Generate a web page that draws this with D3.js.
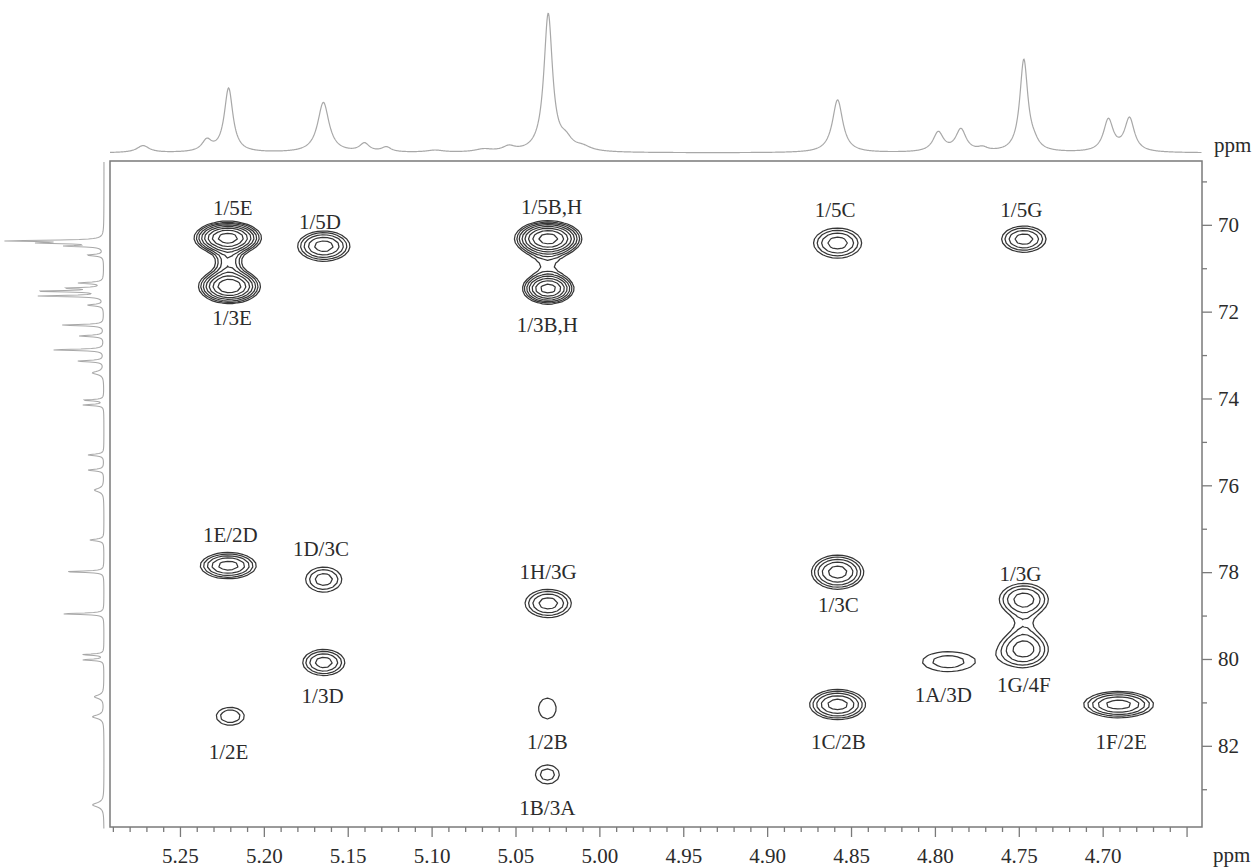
<!DOCTYPE html>
<html>
<head>
<meta charset="utf-8">
<script src="https://cdn.jsdelivr.net/npm/d3@7"></script>
<style>
  body { margin: 0; background: #fff; }
  svg { display: block; }
</style>
</head>
<body>
<div id="chart"></div>
<script>
// ---- axis ticks ----
var xMajor = [5.25, 5.20, 5.15, 5.10, 5.05, 5.00, 4.95, 4.90, 4.85, 4.80, 4.75, 4.70, 4.65];
var xLabels = ["5.25", "5.20", "5.15", "5.10", "5.05", "5.00", "4.95", "4.90", "4.85", "4.80", "4.75", "4.70", ""];
var xMinor = [5.29, 5.28, 5.27, 5.26, 5.24, 5.23, 5.22, 5.21, 5.19, 5.18, 5.17, 5.16, 5.14, 5.13, 5.12, 5.11,
              5.09, 5.08, 5.07, 5.06, 5.04, 5.03, 5.02, 5.01, 4.99, 4.98, 4.97, 4.96, 4.94, 4.93, 4.92, 4.91,
              4.89, 4.88, 4.87, 4.86, 4.84, 4.83, 4.82, 4.81, 4.79, 4.78, 4.77, 4.76, 4.74, 4.73, 4.72, 4.71,
              4.69, 4.68, 4.67, 4.66];
var yMajor = [70, 72, 74, 76, 78, 80, 82];
var yLabels = ["70", "72", "74", "76", "78", "80", "82"];
var yMinor = [69, 71, 73, 75, 77, 79, 81, 83];

// ---- 1H projection (top): peak position (ppm), height (% of tallest), line width (ppm) ----
var topPpm   = [5.272, 5.234, 5.221, 5.1645, 5.140, 5.127, 5.098, 5.069, 5.054, 5.0305, 5.020, 5.010,
                4.858, 4.798, 4.7845, 4.7716, 4.747, 4.741, 4.6966, 4.6840];
var topInt   = [5, 8, 46, 36, 6, 3.5, 1.5, 2, 3.5, 99, 7, 3,
                38, 14, 16, 2.5, 66, 4, 23, 24];
var topWidth = [0.009, 0.007, 0.0062, 0.0082, 0.007, 0.007, 0.012, 0.012, 0.009, 0.0062, 0.009, 0.012,
                0.0075, 0.0075, 0.0075, 0.007, 0.0058, 0.007, 0.007, 0.007];

// ---- 13C projection (left) ----
var leftPpm   = [70.37, 70.42, 70.49, 70.70, 71.34, 71.46, 71.53, 71.64, 71.85, 72.31, 72.56, 72.88,
                 73.14, 73.41, 74.04, 74.15, 75.30, 75.65, 76.11, 77.26, 77.99, 78.96, 79.90, 80.02,
                 80.87, 81.33, 83.36];
var leftInt   = [100, 60, 38, 17, 26, 38, 70, 68, 17, 45, 26, 55,
                 28, 12, 22, 22, 17, 17, 10, 15, 41, 45, 23, 23,
                 10, 12, 12];
var leftWidth = [0.035, 0.035, 0.035, 0.045, 0.04, 0.035, 0.035, 0.035, 0.045, 0.035, 0.04, 0.035,
                 0.04, 0.09, 0.035, 0.035, 0.045, 0.045, 0.1, 0.05, 0.035, 0.035, 0.035, 0.035,
                 0.1, 0.1, 0.12];

// ---- HMBC cross peaks: 1H ppm, 13C ppm, intensity, widths (ppm) ----
var crossH    = [5.2215, 5.2205, 5.2210, 5.1643, 5.0305, 5.0305, 5.0310, 4.8580, 4.7470,
                 5.2212, 5.1643, 5.1643, 5.0305, 5.0310, 5.0310, 5.2200, 4.8580, 4.8580,
                 4.7920, 4.7470, 4.7470, 4.7470, 4.6905];
var crossC    = [70.30, 71.42, 70.85, 70.49, 70.32, 71.47, 70.90, 70.42, 70.33,
                 77.85, 78.17, 80.08, 78.72, 81.14, 82.66, 81.32, 78.00, 81.05,
                 80.06, 78.63, 79.78, 79.20, 81.05];
var crossAmp  = [7.35, 6.2, 1.9, 3.34, 7.35, 5.65, 0.95, 2.57, 2.57,
                 3.34, 1.98, 2.57, 2.57, 1.25, 1.52, 1.7, 3.34, 3.34,
                 1.52, 2.57, 2.57, 0.6, 3.34];
var crossSigH = [0.0100, 0.0096, 0.0060, 0.0100, 0.0100, 0.0082, 0.0090, 0.0104, 0.0096,
                 0.0107, 0.0092, 0.0091, 0.0100, 0.0080, 0.0078, 0.0081, 0.0100, 0.0107,
                 0.0169, 0.0106, 0.0106, 0.0065, 0.0134];
var crossSigC = [0.190, 0.205, 0.230, 0.223, 0.205, 0.190, 0.20, 0.251, 0.218,
                 0.193, 0.247, 0.218, 0.235, 0.362, 0.239, 0.201, 0.252, 0.223,
                 0.251, 0.268, 0.30, 0.22, 0.193];
var contourLevels = [1, 1.3, 1.69, 2.197, 2.856, 3.713, 4.827, 6.275, 8.157, 10.6];

// ---- peak labels ----
var labelText = ["1/5E", "1/3E", "1/5D", "1/5B,H", "1/3B,H", "1/5C", "1/5G",
                 "1E/2D", "1D/3C", "1/3D", "1H/3G", "1/2B", "1B/3A", "1/2E",
                 "1/3C", "1C/2B", "1A/3D", "1/3G", "1G/4F", "1F/2E"];
var labelH = [5.2185, 5.2190, 5.1665, 5.0285, 5.0310, 4.8595, 4.7485,
              5.2200, 5.1660, 5.1650, 5.0305, 5.0310, 5.0310, 5.2210,
              4.8575, 4.8575, 4.7950, 4.7490, 4.7470, 4.6890];
var labelC = [69.60, 72.13, 69.92, 69.57, 72.29, 69.64, 69.64,
              77.13, 77.45, 80.84, 77.99, 81.90, 83.42, 82.13,
              78.75, 81.90, 80.82, 78.04, 80.59, 81.90];

var W = 1258, H = 868;
var box = { left: 110, right: 1202, top: 161, bottom: 827 };
var serif = "'Liberation Serif', 'Times New Roman', Times, serif";

var svg = d3.select("#chart").append("svg")
    .attr("width", W)
    .attr("height", H)
    .attr("font-family", serif);

var x = d3.scaleLinear().domain([5.2917, 4.6408]).range([box.left, box.right]);
var y = d3.scaleLinear().domain([68.53, 83.87]).range([box.top, box.bottom]);
var topY = d3.scaleLinear().domain([0, 100]).range([153, 14]);
var leftX = d3.scaleLinear().domain([0, 100]).range([104, 10]);

function lorentz(v, c, w) {
  var d = (v - c) / (w / 2);
  return 1 / (1 + d * d);
}

// top projection
var topPts = d3.range(box.left, box.right, 0.5).map(function(px) {
  var p = x.invert(px), s = 0;
  for (var k = 0; k < topPpm.length; k++) s += topInt[k] * lorentz(p, topPpm[k], topWidth[k]);
  return [px, topY(s)];
});
svg.append("path")
    .attr("d", d3.line()(topPts))
    .attr("fill", "none")
    .attr("stroke", "#a8a8a8")
    .attr("stroke-width", 1.2);

// left projection
var leftPts = d3.range(box.top + 1, box.bottom + 2, 0.5).map(function(py) {
  var p = y.invert(py), s = 0;
  for (var k = 0; k < leftPpm.length; k++) s += leftInt[k] * lorentz(p, leftPpm[k], leftWidth[k]);
  return [leftX(s), py];
});
svg.append("path")
    .attr("d", d3.line()(leftPts))
    .attr("fill", "none")
    .attr("stroke", "#a8a8a8")
    .attr("stroke-width", 1.1);

// contour map
var cellX = 5, cellY = 4;
var nx = Math.ceil((box.right - box.left) / cellX);
var ny = Math.ceil((box.bottom - box.top) / cellY);
var grid = new Float64Array(nx * ny);
for (var j = 0; j < ny; j++) {
  var c = y.invert(box.top + (j + 0.5) * cellY);
  for (var i = 0; i < nx; i++) {
    var h = x.invert(box.left + (i + 0.5) * cellX), s = 0;
    for (var k = 0; k < crossH.length; k++) {
      var dh = (h - crossH[k]) / crossSigH[k];
      var dc = (c - crossC[k]) / crossSigC[k];
      s += crossAmp[k] * Math.exp(-0.5 * (dh * dh + dc * dc));
    }
    grid[j * nx + i] = s;
  }
}
var contours = d3.contours().size([nx, ny]).thresholds(contourLevels)(grid);
var gridPath = d3.geoPath(d3.geoTransform({
  point: function(gx, gy) { this.stream.point(box.left + gx * cellX, box.top + gy * cellY); }
}));
svg.append("g").selectAll("path")
    .data(contours)
    .enter().append("path")
    .attr("d", gridPath)
    .attr("fill", "none")
    .attr("stroke", "#363636")
    .attr("stroke-width", 1.25)
    .attr("stroke-linejoin", "round");

// frame
svg.append("rect")
    .attr("x", box.left).attr("y", box.top)
    .attr("width", box.right - box.left).attr("height", box.bottom - box.top)
    .attr("fill", "none")
    .attr("stroke", "#7a7a7a")
    .attr("stroke-width", 1.5);

// bottom axis
var xAxisMinor = svg.append("g")
    .attr("transform", "translate(0," + box.bottom + ")")
    .call(d3.axisBottom(x).tickValues(xMinor).tickSize(5).tickFormat(""));
var xAxis = svg.append("g")
    .attr("transform", "translate(0," + box.bottom + ")")
    .call(d3.axisBottom(x).tickValues(xMajor).tickSize(10).tickPadding(11)
      .tickFormat(function(d, i) { return xLabels[i]; }));

// right axis
var yAxisMinor = svg.append("g")
    .attr("transform", "translate(" + box.right + ",0)")
    .call(d3.axisRight(y).tickValues(yMinor).tickSize(5).tickFormat(""));
var yAxis = svg.append("g")
    .attr("transform", "translate(" + box.right + ",0)")
    .call(d3.axisRight(y).tickValues(yMajor).tickSize(10).tickPadding(6)
      .tickFormat(function(d, i) { return yLabels[i]; }));

[xAxisMinor, xAxis, yAxisMinor, yAxis].forEach(function(g) {
  g.attr("font-family", serif).attr("font-size", 21);
  g.select(".domain").remove();
  g.selectAll(".tick line").attr("stroke", "#7a7a7a").attr("stroke-width", 1.3);
  g.selectAll(".tick text").attr("fill", "#2b2b2b");
});

// unit labels
svg.append("text").attr("x", 1214).attr("y", 152).attr("font-size", 21).attr("fill", "#2b2b2b").text("ppm");
svg.append("text").attr("x", 1213).attr("y", 862).attr("font-size", 21).attr("fill", "#2b2b2b").text("ppm");

// peak labels
svg.append("g").selectAll("text")
    .data(labelText)
    .enter().append("text")
    .attr("x", function(d, i) { return x(labelH[i]); })
    .attr("y", function(d, i) { return y(labelC[i]); })
    .attr("dy", "0.35em")
    .attr("text-anchor", "middle")
    .attr("font-size", 21)
    .attr("fill", "#2b2b2b")
    .text(function(d) { return d; });
</script>
</body>
</html>
